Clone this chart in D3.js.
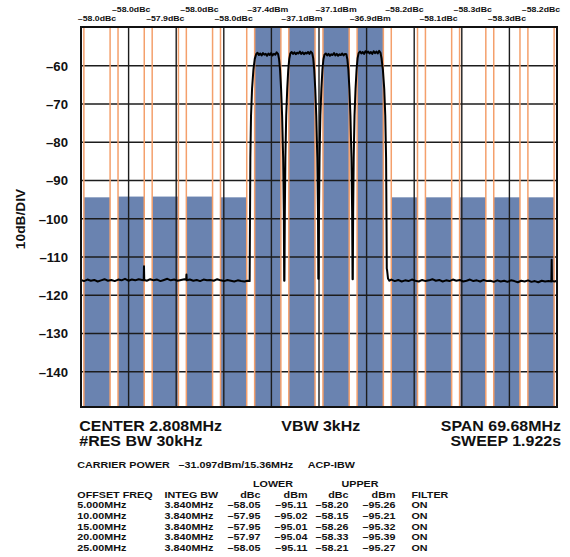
<!DOCTYPE html>
<html lang="en">
<head>
<meta charset="UTF-8">
<title>ACP measurement</title>
<script src="https://cdnjs.cloudflare.com/ajax/libs/d3/7.8.5/d3.min.js"></script>
<style>
  body { margin: 0; background: #fff; }
  text { font-family: "Liberation Sans", Arial, sans-serif; font-weight: bold; fill: #111; }
</style>
</head>
<body>
<svg id="chart" width="570" height="557"></svg>
<script>
/* global d3 */

// carriers (MHz offset from center) and their power labels
var carrierOffsets = [-7.5, -2.5, 2.5, 7.5];
var carrierLabels = ["–37.4dBm", "–37.1dBm", "–37.1dBm", "–36.9dBm"];

// adjacent channel offsets from outermost carrier
var acpOffsets = [5, 10, 15, 20, 25];
var lowerLabels = ["–58.0dBc", "–58.0dBc", "–57.9dBc", "–58.0dBc", "–58.0dBc"];
var upperLabels = ["–58.2dBc", "–58.1dBc", "–58.3dBc", "–58.3dBc", "–58.2dBc"];
var lowerBarDbm = [-94.4, -94.2, -94.2, -94.2, -94.4];
var upperBarDbm = [-94.4, -94.4, -94.4, -94.4, -94.4];
var integBw = 3.84;

var yTicks = [-60, -70, -80, -90, -100, -110, -120, -130, -140];

// table
var offsetFreqLabels = ["5.000MHz", "10.00MHz", "15.00MHz", "20.00MHz", "25.00MHz"];
var integBwLabels = ["3.840MHz", "3.840MHz", "3.840MHz", "3.840MHz", "3.840MHz"];
var lowerDbc = [-58.05, -57.95, -57.95, -57.97, -58.05];
var lowerDbm = [-95.11, -95.02, -95.01, -95.04, -95.11];
var upperDbc = [-58.20, -58.15, -58.26, -58.33, -58.21];
var upperDbm = [-95.26, -95.21, -95.32, -95.39, -95.27];
var filterLabels = ["ON", "ON", "ON", "ON", "ON"];

// spectrum trace [MHz offset, dBm]
var trace = [
  [-34.84,-116.0],[-34.4,-116.3],[-33.9,-115.9],[-33.4,-116.2],[-32.9,-116.0],[-32.4,-116.4],[-31.9,-116.1],
  [-31.4,-115.8],[-30.9,-116.2],[-30.4,-116.0],[-29.9,-116.3],[-29.4,-115.9],[-28.9,-116.1],[-28.4,-115.7],
  [-27.9,-116.2],[-27.4,-115.9],[-26.9,-116.1],[-26.4,-115.8],[-25.9,-116.0],[-25.66,-116.1],[-25.62,-112.4],
  [-25.58,-116.0],[-25.2,-116.2],[-24.7,-115.8],[-24.2,-116.1],[-23.7,-115.9],[-23.2,-116.3],[-22.7,-116.0],
  [-22.2,-115.7],[-21.7,-116.1],[-21.2,-115.9],[-20.7,-116.2],[-20.2,-116.0],[-19.7,-115.8],[-19.44,-116.0],
  [-19.4,-114.6],[-19.36,-116.1],[-18.9,-115.9],[-18.4,-116.2],[-17.9,-116.0],[-17.4,-116.3],[-16.9,-115.9],
  [-16.4,-116.1],[-15.9,-116.0],[-15.4,-116.2],[-14.9,-115.8],[-14.4,-116.1],[-13.9,-116.3],[-13.4,-116.0],
  [-12.9,-116.2],[-12.4,-116.4],[-11.9,-116.1],[-11.4,-116.3],[-10.9,-116.4],[-10.5,-116.2],[-10.15,-116.3],
  [-10.1,-100],[-10.05,-84],[-9.95,-73],[-9.8,-66],[-9.6,-61],[-9.4,-58.2],[-9.2,-57.0],[-9.0,-56.6],
  [-8.8,-57.2],[-8.6,-56.8],[-8.4,-57.3],[-8.2,-56.7],[-8.0,-57.1],[-7.8,-56.9],[-7.6,-57.4],[-7.4,-56.8],
  [-7.2,-57.2],[-7.0,-56.7],[-6.8,-57.3],[-6.6,-56.9],[-6.4,-57.1],[-6.2,-56.5],[-6.0,-56.9],[-5.85,-58.2],
  [-5.7,-61],[-5.55,-66],[-5.4,-73],[-5.25,-84],[-5.15,-98],[-5.1,-116.2],[-5.06,-116.2],[-5.0,-98],[-4.92,-84],
  [-4.8,-73],[-4.65,-66],[-4.5,-61],[-4.35,-58.2],[-4.2,-56.8],
  [-4.0,-56.4],[-3.8,-56.9],[-3.6,-56.5],[-3.4,-57.0],[-3.2,-56.6],[-3.0,-56.8],[-2.8,-56.3],[-2.6,-56.9],
  [-2.4,-56.5],[-2.2,-57.0],[-2.0,-56.6],[-1.8,-56.8],[-1.6,-56.4],[-1.4,-56.9],[-1.2,-56.3],[-1.0,-56.7],
  [-0.85,-58.0],[-0.7,-61],[-0.55,-66],[-0.4,-73],[-0.25,-84],[-0.15,-98],[-0.1,-115.7],[-0.06,-115.7],[0.0,-98],
  [0.08,-84],[0.2,-73],[0.35,-66],[0.5,-61],[0.65,-58.3],[0.8,-57.1],
  [1.0,-56.8],[1.2,-57.3],[1.4,-56.9],[1.6,-57.4],[1.8,-57.0],[2.0,-57.2],[2.2,-56.7],[2.4,-57.3],
  [2.6,-56.9],[2.8,-57.4],[3.0,-57.0],[3.2,-57.2],[3.4,-56.8],[3.6,-57.3],[3.8,-56.9],[4.0,-57.0],
  [4.15,-58.3],[4.3,-61],[4.45,-66],[4.6,-73],[4.75,-84],[4.85,-98],[4.91,-115.8],[4.95,-115.8],[5.0,-98],
  [5.08,-84],[5.2,-73],[5.35,-66],[5.5,-61],[5.65,-58.0],[5.8,-56.7],
  [6.0,-56.3],[6.2,-56.8],[6.4,-56.4],[6.6,-56.9],[6.8,-56.2],[7.0,-56.6],[7.2,-56.3],[7.4,-56.8],
  [7.6,-56.4],[7.8,-56.9],[8.0,-56.2],[8.2,-56.7],[8.4,-56.3],[8.6,-56.8],[8.8,-56.1],[9.0,-56.6],
  [9.15,-58.0],[9.35,-61],[9.55,-66],[9.7,-73],[9.82,-84],[9.88,-100],[9.92,-113.0],[9.98,-113.6],
  [10.1,-115.6],[10.3,-116.2],
  [10.6,-115.9],[11.1,-116.3],[11.6,-116.0],[12.1,-116.4],[12.6,-116.1],[13.1,-116.3],[13.6,-115.9],
  [14.1,-116.2],[14.6,-116.4],[15.1,-116.0],[15.6,-116.3],[16.1,-116.1],[16.6,-115.8],[17.1,-116.2],
  [17.6,-116.0],[18.1,-116.4],[18.6,-116.1],[19.1,-116.3],[19.6,-115.9],[20.1,-116.2],[20.6,-116.0],
  [21.1,-116.4],[21.6,-116.2],[22.1,-115.9],[22.6,-116.3],[23.1,-116.1],[23.6,-116.4],[24.1,-116.0],
  [24.6,-116.3],[25.1,-116.2],[25.6,-116.5],[26.1,-116.1],[26.6,-116.4],[27.1,-116.2],[27.6,-116.5],
  [28.1,-116.1],[28.6,-116.3],[29.1,-116.6],[29.6,-116.2],[30.1,-116.4],[30.6,-116.1],[31.1,-116.5],
  [31.6,-116.3],[32.1,-116.6],[32.6,-116.2],[33.1,-116.4],[33.6,-116.3],[34.02,-116.4],[34.06,-110.7],
  [34.1,-116.3],[34.5,-116.4],[34.84,-116.2]
];

var svg = d3.select("#chart"),
    plotLeft = 81, plotRight = 557, plotTop = 27, plotBottom = 407,
    span = 69.68,
    x = d3.scaleLinear().domain([-span / 2, span / 2]).range([plotLeft, plotRight]),
    y = d3.scaleLinear().domain([-150, -50]).range([410, 27.5]),
    blue = "#6a83b0",
    orange = "#f4a06c",
    stretch = 1.12;

svg.append("rect").attr("width", 570).attr("height", 557).attr("fill", "#fff");

// all bands left to right: lower ACP (25..5), carriers, upper ACP (5..25)
var bands = [];
for (var i = acpOffsets.length - 1; i >= 0; i--) {
    bands.push({f: carrierOffsets[0] - acpOffsets[i], level: lowerBarDbm[i], label: lowerLabels[i]});
}
carrierOffsets.forEach(function (c, i) {
    bands.push({f: c, level: null, label: carrierLabels[i]});
});
acpOffsets.forEach(function (o, i) {
    bands.push({f: carrierOffsets[3] + o, level: upperBarDbm[i], label: upperLabels[i]});
});

function barTop(d) { return d.level === null ? plotTop : y(d.level); }

svg.append("g").selectAll("rect")
    .data(bands)
    .enter().append("rect")
    .attr("x", function (d) { return x(d.f - integBw / 2); })
    .attr("width", function (d) { return x(d.f + integBw / 2) - x(d.f - integBw / 2); })
    .attr("y", barTop)
    .attr("height", function (d) { return plotBottom - barTop(d); })
    .attr("fill", blue);

// grid
var grid = svg.append("g").attr("stroke", "#1c1c1c").attr("stroke-width", 1.4);
grid.selectAll("line.h")
    .data(yTicks)
    .enter().append("line")
    .attr("x1", plotLeft).attr("x2", plotRight)
    .attr("y1", function (d) { return y(d); })
    .attr("y2", function (d) { return y(d); });
grid.selectAll("line.v")
    .data(d3.range(1, 10))
    .enter().append("line")
    .attr("y1", plotTop).attr("y2", plotBottom)
    .attr("x1", function (d) { return plotLeft + (plotRight - plotLeft) * d / 10; })
    .attr("x2", function (d) { return plotLeft + (plotRight - plotLeft) * d / 10; });

// band edge markers
var edges = [];
bands.forEach(function (b) {
    edges.push(b.f - integBw / 2, b.f + integBw / 2);
});
svg.append("g").selectAll("line")
    .data(edges)
    .enter().append("line")
    .attr("x1", function (d) { return x(d); })
    .attr("x2", function (d) { return x(d); })
    .attr("y1", plotTop).attr("y2", plotBottom)
    .attr("stroke", orange)
    .attr("stroke-width", 1.5);

// trace
svg.append("clipPath").attr("id", "clip")
    .append("rect").attr("x", plotLeft).attr("y", plotTop)
    .attr("width", plotRight - plotLeft).attr("height", plotBottom - plotTop);

svg.append("path")
    .datum(trace)
    .attr("clip-path", "url(#clip)")
    .attr("fill", "none")
    .attr("stroke", "#000")
    .attr("stroke-width", 2)
    .attr("stroke-linejoin", "round")
    .attr("d", d3.line()
        .x(function (d) { return x(d[0]); })
        .y(function (d) { return y(d[1]); }));

// frame
svg.append("rect")
    .attr("x", plotLeft).attr("y", plotTop)
    .attr("width", plotRight - plotLeft).attr("height", plotBottom - plotTop)
    .attr("fill", "none").attr("stroke", "#111").attr("stroke-width", 2);

function label(px, py, txt, size, anchor, sx) {
    return svg.append("text")
        .attr("transform", "translate(" + px + "," + py + ") scale(" + (sx || stretch) + ",1)")
        .attr("text-anchor", anchor || "start")
        .style("font-size", size + "px")
        .text(txt);
}

// band labels on two rows
bands.forEach(function (b, i) {
    label(x(b.f), i % 2 === 0 ? 20.5 : 11.8, b.label, 7.8, "middle");
});

// y axis
var yAxis = d3.axisLeft(y)
    .tickValues(yTicks)
    .tickSize(0)
    .tickPadding(0)
    .tickFormat(function (d) { return "–" + Math.abs(d); });
var ya = svg.append("g").attr("transform", "translate(68,0)").call(yAxis);
ya.select(".domain").remove();
ya.selectAll("text")
    .style("font-size", "12.2px")
    .attr("fill", "#111")
    .attr("font-family", null)
    .attr("transform", "scale(1.08,1)")
    .attr("dy", "0.36em");

svg.append("text")
    .attr("transform", "translate(25,219) rotate(-90) scale(1.1,1)")
    .attr("text-anchor", "middle")
    .style("font-size", "12.5px")
    .text("10dB/DIV");

// settings
label(79.3, 430.7, "CENTER 2.808MHz", 14, "start", 1.14);
label(79.3, 445.7, "#RES BW 30kHz", 14, "start", 1.14);
label(281.3, 430.7, "VBW 3kHz", 14, "start", 1.14);
label(561, 430.7, "SPAN 69.68MHz", 14, "end", 1.14);
label(561, 445.7, "SWEEP 1.922s", 14, "end", 1.14);

var fs = 9.6;
label(77.3, 467.7, "CARRIER POWER", fs);
label(178.5, 467.7, "–31.097dBm/15.36MHz", fs);
label(307.7, 467.7, "ACP-IBW", fs);

label(273, 486.7, "LOWER", fs, "middle");
label(360, 486.7, "UPPER", fs, "middle");

var cols = [
    {x: 77.3, a: "start", h: "OFFSET FREQ", v: offsetFreqLabels},
    {x: 164.5, a: "start", h: "INTEG BW", v: integBwLabels},
    {x: 260.5, a: "end", h: "dBc", v: lowerDbc},
    {x: 307.5, a: "end", h: "dBm", v: lowerDbm},
    {x: 348.5, a: "end", h: "dBc", v: upperDbc},
    {x: 395.5, a: "end", h: "dBm", v: upperDbm},
    {x: 411.5, a: "start", h: "FILTER", v: filterLabels}
];
var rowY = [508.3, 519, 529.7, 540.3, 551];
cols.forEach(function (c) {
    label(c.x, 497.7, c.h, fs, c.a);
    c.v.forEach(function (v, i) {
        var t = typeof v === "number" ? "–" + Math.abs(v).toFixed(2) : v;
        label(c.x, rowY[i], t, fs, c.a);
    });
});
</script>
</body>
</html>
